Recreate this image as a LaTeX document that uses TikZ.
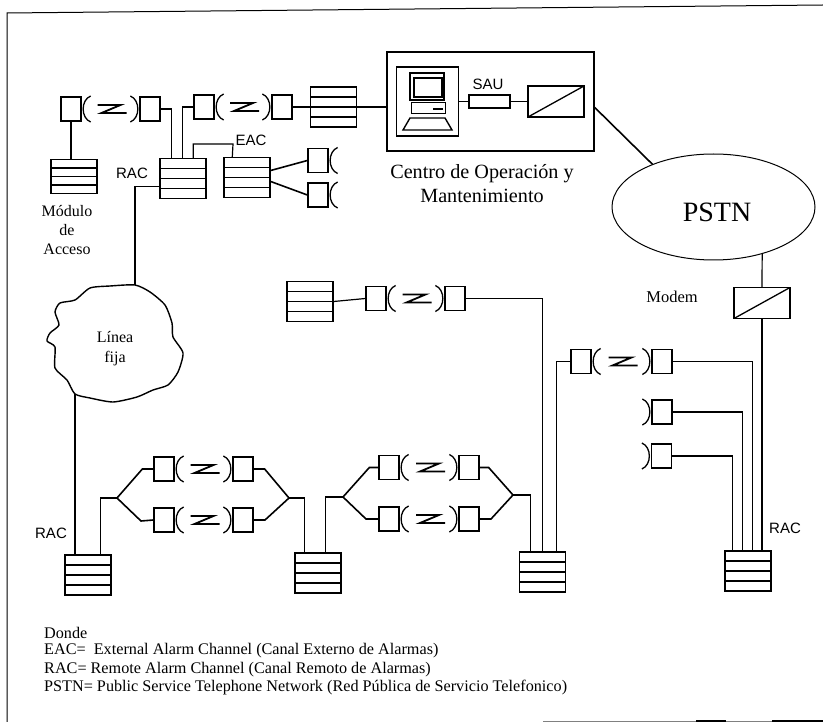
\documentclass[tikz,border=0pt]{standalone}
\usepackage{fontspec}
\setmainfont{Liberation Serif}
\newfontfamily\sansfont{Liberation Sans}
\usetikzlibrary{arrows.meta,calc,shapes.geometric}
\tikzset{
  wire/.style={line width=1.2pt},
  forkwire/.style={line width=1.6pt},
  antline/.style={line width=1.3pt},
  unitbox/.style={draw,line width=1.3pt,minimum width=20pt,minimum height=24pt,inner sep=0pt},
  rackbox/.style={draw,line width=1.4pt,minimum width=46pt,minimum height=40pt,inner sep=0pt,
    path picture={\foreach \f in {0.25,0.5,0.75}{\draw[line width=1.4pt]
      ($(path picture bounding box.north west)!\f!(path picture bounding box.south west)$) --
      ($(path picture bounding box.north east)!\f!(path picture bounding box.south east)$);}}},
  convbox/.style={draw,line width=1.3pt,minimum width=56pt,minimum height=31pt,inner sep=0pt,
    path picture={\draw[line width=1.3pt] (path picture bounding box.south west) -- (path picture bounding box.north east);}},
  taglabel/.style={font=\sansfont\fontsize{15}{17}\selectfont,inner sep=0pt},
  serlabel/.style={font=\fontsize{16}{19}\selectfont,inner sep=0pt,align=center},
  leglabel/.style={font=\fontsize{16.2}{18}\selectfont,inner sep=0pt,anchor=west},
}
\newcommand{\antR}[1]{\draw[antline] ([shift={(9,-13)}]#1.east) .. controls ([shift={(-1,-9)}]#1.east) and ([shift={(-1,9)}]#1.east) .. ([shift={(9,13)}]#1.east);}
\newcommand{\antL}[1]{\draw[antline] ([shift={(-9,-13)}]#1.west) .. controls ([shift={(1,-9)}]#1.west) and ([shift={(1,9)}]#1.west) .. ([shift={(-9,13)}]#1.west);}
\begin{document}
\begin{tikzpicture}[x=1pt,y=-1pt]
\useasboundingbox (0,0) rectangle (823,722);
% page frame
\draw[line width=1pt] (823,5) -- (7,13) -- (7,722);
\draw[line width=0.7pt,gray] (543,721) -- (823,721);
\draw[line width=2pt] (696,721) -- (726,721) (772,721) -- (823,721);
% racks
\node[rackbox,minimum height=34pt] (modulo) at (74,176.5) {};
\node[rackbox] (racA) at (183,178.5) {};
\node[rackbox] (eac) at (247,177.5) {};
\node[rackbox] (topr) at (333.5,107) {};
\node[rackbox] (midr) at (310,301.5) {};
\node[rackbox] (racL) at (88,575) {};
\node[rackbox] (racM) at (318,573) {};
\node[rackbox] (racN) at (542.5,572) {};
\node[rackbox] (racR) at (748,571) {};
% radio hops: left unit, right unit, z in between
\foreach \n/\xa/\xb/\y in {a/71/150/109,b/204/282/107,c/376/455/298.5,d/581/662/361.5,e/164/243/469,f/164/243/520,g/389/469/467.5,h/389/469/519}{
  \node[unitbox] (\n l) at (\xa,\y) {};
  \node[unitbox] (\n r) at (\xb,\y) {};
  \antR{\n l}
  \antL{\n r}
  \draw[line width=1.8pt] ($(\n l)!0.5!(\n r)+(-13,-4)$) -- ++(23,0) -- ++(-19,8) -- ++(25,0);
}
% single units
\node[unitbox] (eaca) at (318,160.5) {};
\node[unitbox] (eacb) at (318,195) {};
\node[unitbox] (rema) at (662,412) {};
\node[unitbox] (remb) at (661.5,456) {};
\antR{eaca}
\antR{eacb}
\antL{rema}
\antL{remb}
% operation centre
\node[draw,line width=1.5pt,minimum width=207pt,minimum height=99pt] (coc) at (490.5,101.5) {};
\node[draw,line width=1.8pt,minimum width=62pt,minimum height=69pt] (pc) at (427.5,101.5) {};
\node[draw,line width=1.3pt,minimum width=34pt,minimum height=27pt] (screen) at (427,86.5) {};
\node[draw,line width=1.3pt,minimum width=28pt,minimum height=19pt] at (428,87.5) (glass) {};
\node[draw,line width=1pt,minimum width=34pt,minimum height=11pt] (base) at (428,108.5) {};
\draw[line width=1.8pt] (433,109) -- (443,109);
\draw[line width=1.4pt] (403,130) -- (410,118) -- (445,118) -- (452,130) -- cycle;
\node[draw,line width=1.3pt,minimum width=41pt,minimum height=13pt] (sau) at (489.5,101.5) {};
\node[convbox] (conv) at (556,101.5) {};
\node[convbox] (modem) at (762,303) {};
\node[draw,line width=1pt,ellipse,minimum width=203pt,minimum height=106pt,inner sep=0pt] (pstn) at (713.5,207) {};
% cloud
\draw[line width=1.4pt] plot[smooth cycle,tension=0.4] coordinates {(110,286) (135,285) (150,292) (165,305) (172,323) (173,337) (183,353) (178,372) (168,385) (153,390) (137,397) (113,402) (90,398) (75,394) (67,380) (55,368) (55,347) (47,341) (50,333) (59,325) (55,312) (60,303) (75,300) (90,288)};
\coordinate (cloudtop) at (135,285);
\coordinate (cloudbot) at (75,394);
% wires
\draw[wire] (al.south) -- (al.south |- modulo.north);
\draw[wire] (ar.east) -| ([xshift=12pt]racA.north west);
\draw[wire] (bl.west) -| ([xshift=23pt]racA.north west);
\coordinate (eacjoin) at (233,144);
\draw[wire] ([xshift=34pt]racA.north west) |- (eacjoin) -- ([xshift=9pt]eac.north west);
\draw[forkwire] (eac.east) ++(0,-7) -- (eaca.west);
\draw[forkwire] (eac.east) ++(0,4) -- (eacb.west);
\draw[wire] (br.east) -- (topr.west);
\draw[wire] (topr.east) -- (topr.east -| coc.west);
\draw[wire] (racA.west) ++(0,8) -| (cloudtop);
\draw[wire] (cloudbot) -- (cloudbot |- racL.north);
\draw[wire] (pc.east) -- (sau.west);
\draw[wire] (sau.east) -- (conv.west);
\draw[forkwire] ([yshift=-6pt]coc.east) -- (pstn.145);
\draw[wire] (pstn.-44) -- (modem.north);
\draw[wire] (modem.south) -- (modem.south |- racR.north);
\draw[wire] (midr.east) -- (cl.west);
\draw[wire] (cr.east) -| ([xshift=24pt]racN.north west);
\draw[wire] (dl.west) -| ([xshift=38pt]racN.north west);
\draw[wire] (dr.east) -| ([xshift=28pt]racR.north west);
\draw[wire] (rema.east) -| ([xshift=18pt]racR.north west);
\draw[wire] (remb.east) -| ([xshift=8pt]racR.north west);
% forks
\coordinate (forka) at (117,498);
\coordinate (forkb) at (289,498);
\coordinate (forkc) at (343,497);
\coordinate (forkd) at (513,495);
\draw[wire] ([xshift=36pt]racL.north west) |- (forka);
\draw[forkwire] (el.west) -- +(-11,0) -- (forka) -- +(24,23) -- (fl.west);
\draw[forkwire] (er.east) -- +(11,0) -- (forkb) -- +(-24,22) -- (fr.east);
\draw[wire] (forkb) -| ([xshift=10pt]racM.north west);
\draw[wire] ([xshift=31pt]racM.north west) |- (forkc);
\draw[forkwire] (gl.west) -- +(-9,0) -- (forkc) -- +(23,22) -- (hl.west);
\draw[forkwire] (gr.east) -- +(9,0) -- (forkd) -- +(-22,24) -- (hr.east);
\draw[wire] (forkd) -| ([xshift=12pt]racN.north west);
% labels
\node[serlabel] (modlab) at (67,230) {Módulo\\de\\Acceso};
\node[taglabel] (raclaba) at (132,173) {RAC};
\node[taglabel] (eaclab) at (251,140) {EAC};
\node[taglabel] (raclabb) at (51,533) {RAC};
\node[taglabel] (raclabc) at (785,528) {RAC};
\node[taglabel] (saulab) at (488,84) {SAU};
\node[serlabel,font=\fontsize{20.2}{24}\selectfont] (coclab) at (482,184) {Centro de Operación y\\Mantenimiento};
\node[serlabel,font=\fontsize{28}{32}\selectfont] (pstnlab) at (717,212) {PSTN};
\node[serlabel,font=\fontsize{16.5}{17}\selectfont] (modemlab) at (672,297) {Modem};
\node[serlabel,font=\fontsize{16}{20}\selectfont] (cloudlab) at (115,349) {Línea\\fija};
% legend
\node[leglabel] (legd) at (44,633) {Donde};
\node[leglabel] (lege) at (44,651) {EAC=~ External Alarm Channel (Canal Externo de Alarmas)};
\node[leglabel] (legr) at (44,670) {RAC= Remote Alarm Channel (Canal Remoto de Alarmas)};
\node[leglabel] (legp) at (44,688) {PSTN= Public Service Telephone Network (Red Pública de Servicio Telefonico)};
\end{tikzpicture}
\end{document}
